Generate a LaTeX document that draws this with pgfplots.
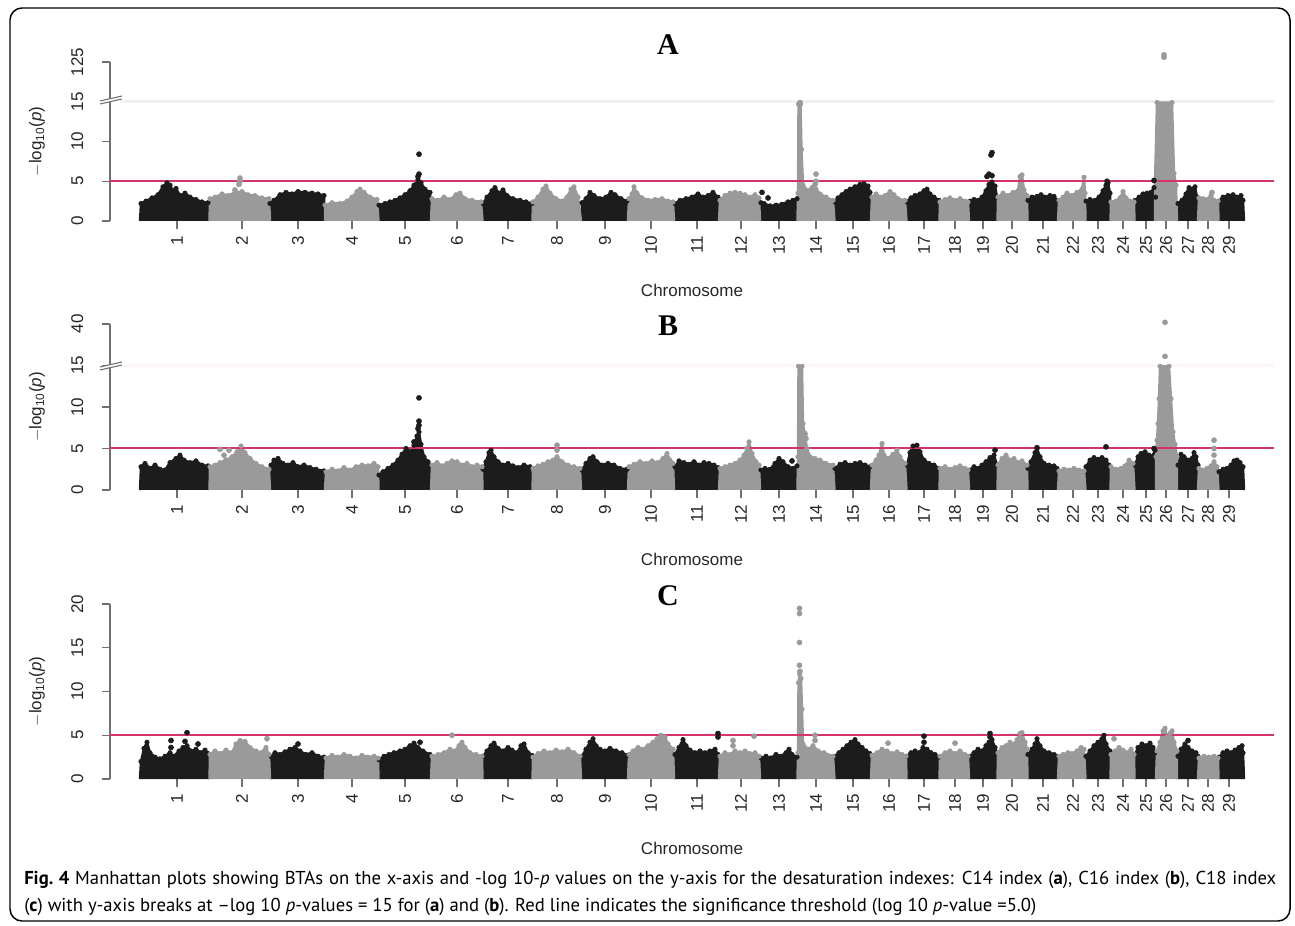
\documentclass[border=0pt]{standalone}
\usepackage{fontspec}
\setmainfont{Liberation Sans}
\newfontfamily\capfont{PT Sans}
\newfontfamily\titlefont{Liberation Serif}
\usepackage{pgfplots}
\pgfplotsset{compat=1.18}
\usepackage{pgfplotstable}

\definecolor{chrdark}{HTML}{1C1C1C}
\definecolor{chrlight}{HTML}{9A9A9A}
\definecolor{sigline}{HTML}{D6336C}
\definecolor{axisgray}{HTML}{707070}

% Upper outline of the SNP clouds, one closed block per chromosome
% (x = cumulative genome position, y = -log10(p); values above 15 are
% drawn on a compressed scale in panels A and B)
\pgfplotstableread{
x y
140 0
141 2.2
146 2.5
152 2.9
158 3.3
163 4.3
167 4.8
170 4.5
173 3.8
176 4.1
180 3.2
185 3.5
190 3.0
196 2.7
202 2.4
208 2.3
209.5 0
nan nan
270 0
270 2.2
274 2.6
280 3.3
286 3.6
292 3.4
298 3.7
305 3.6
312 3.5
318 3.4
324 3.2
325 0
nan nan
378.5 0
379 2.0
385 2.2
390 2.4
395 2.6
400 2.9
405 3.3
410 3.8
414 4.5
418 5.2
421 4.8
425 4.0
430 3.6
431 0
nan nan
482.5 0
483 2.2
487 3.0
492 3.8
495 4.2
499 3.5
503 3.9
507 3.2
513 2.8
520 2.6
526 2.4
532 2.2
532.5 0
nan nan
581 0
582 2.3
586 2.8
590 3.6
594 3.2
600 2.8
606 3.0
611 3.6
615 3.3
621 2.8
627 2.5
628 0
nan nan
674 0
675 2.2
680 2.6
686 2.8
692 3.0
698 3.4
703 3.0
708 3.2
713 3.6
718 3.0
719 0
nan nan
760 0
761 2.3
764 2.2
770 1.9
776 2.0
782 2.1
788 2.4
793 2.6
797 2.8
797.5 0
nan nan
834.5 0
835 2.4
838 2.9
842 3.3
846 3.7
850 4.0
855 4.3
860 4.6
864 4.7
868 4.4
870 3.6
871 0
nan nan
906.5 0
907 2.4
911 2.9
915 3.2
920 3.4
924 3.8
927 4.0
930 3.4
934 3.0
939 2.6
939.5 0
nan nan
969 0
970 2.5
974 2.7
978 2.6
982 3.0
986 3.8
989 4.6
992 4.9
995 4.4
997 3.0
997.5 0
nan nan
1027.5 0
1028 2.6
1032 3.0
1037 3.1
1041 3.3
1045 3.0
1050 3.2
1054 3.1
1057 2.6
1058 0
nan nan
1085.5 0
1086 2.5
1090 2.7
1095 2.6
1099 3.0
1103 3.8
1106 4.5
1108 4.8
1110 3.5
1110.5 0
nan nan
1134.5 0
1135 2.6
1139 3.0
1143 3.4
1147 3.5
1151 3.6
1154 4.2
1155.5 3.0
1156 0
nan nan
1177 0
1178 2.2
1182 2.6
1186 3.4
1189 4.2
1192 4.0
1195 4.3
1197 3.0
1198 0
nan nan
1218.5 0
1219 2.5
1223 3.0
1228 3.2
1233 3.3
1237 3.0
1241 3.2
1243 2.6
1244 0
}\Adark

\pgfplotstableread{
x y
209.5 0
210 2.8
215 3.0
222 3.4
228 3.2
235 3.6
242 3.7
248 3.3
255 3.2
262 2.9
269 2.8
270 0
nan nan
325 0
325 2.0
332 2.3
340 2.2
347 2.5
352 3.0
357 3.7
360 4.0
364 3.6
370 3.0
377 2.7
378.5 0
nan nan
431 0
432 2.8
438 2.6
444 3.0
450 2.7
456 3.3
460 3.5
465 2.8
472 2.6
481 2.4
482.5 0
nan nan
532.5 0
533 2.4
538 3.0
543 4.0
546 4.4
550 3.5
556 2.8
562 2.5
567 3.0
571 4.0
574 4.3
578 3.0
581 0
nan nan
628 0
629 2.8
632 3.4
634 4.3
637 3.5
642 2.9
648 2.6
655 2.7
662 2.8
668 2.5
673 2.4
674 0
nan nan
719 0
720 2.6
725 3.2
730 3.5
735 3.6
740 3.5
745 3.3
750 3.0
755 3.3
759 2.9
760 0
nan nan
797.5 0
798 3.5
798.5 14.7
800.5 14.7
801.5 9.0
803 4.5
808 3.8
812 4.2
816 4.0
820 3.4
826 3.0
833 2.6
834.5 0
nan nan
871 0
872 3.0
876 3.4
880 3.0
885 3.2
890 3.7
894 3.3
898 2.8
905 2.6
906.5 0
nan nan
939.5 0
940 2.4
945 2.7
950 2.9
955 2.6
960 2.8
965 2.5
968 2.4
969 0
nan nan
997.5 0
998 3.0
1003 3.5
1008 3.2
1013 3.6
1018 3.8
1020 5.6
1022 5.8
1024 3.9
1027 3.2
1027.5 0
nan nan
1058 0
1059 2.6
1063 3.0
1067 3.5
1072 3.2
1077 3.6
1082 4.0
1084 5.5
1085 3.5
1085.5 0
nan nan
1110.5 0
1111 2.4
1116 2.5
1120 2.9
1123 3.7
1126 2.9
1130 2.5
1134 2.4
1134.5 0
nan nan
1155 0
1155 5.0
1157 14.9
1172 14.9
1174 6.0
1176 4.5
1177 0
nan nan
1198 0
1199 2.9
1203 2.8
1207 2.7
1211 3.2
1214 2.6
1218 2.5
1218.5 0
}\Alight

\pgfplotstableread{
x y
140 0
141 2.8
145 3.2
150 2.6
155 3.0
160 2.5
165 2.4
170 3.3
176 3.8
180 4.2
184 3.6
190 3.3
196 3.5
202 3.0
208 2.9
209.5 0
nan nan
270 0
271 3.0
274 3.6
278 3.8
283 3.2
288 3.0
293 3.3
298 2.8
304 3.0
310 2.7
316 2.5
324 2.3
325 0
nan nan
378.5 0
379 1.8
383 2.2
388 2.6
393 3.0
398 3.6
402 4.3
406 5.0
410 4.6
414 5.4
417 6.5
419 7.0
421 5.5
424 4.0
428 3.4
430 3.0
431 0
nan nan
482.5 0
483 2.5
486 3.4
489 4.5
491 4.8
494 4.0
498 3.4
503 3.0
508 3.2
513 2.9
518 2.7
524 3.0
530 2.8
532.5 0
nan nan
581 0
582 2.4
586 3.2
590 3.8
593 4.0
597 3.4
602 3.0
608 3.2
614 3.0
620 2.6
627 2.5
628 0
nan nan
674 0
675 2.8
679 3.5
684 3.3
689 3.1
694 3.4
699 3.0
704 3.3
709 3.2
714 3.0
718 2.7
719 0
nan nan
760 0
761 2.4
765 2.6
770 2.5
775 3.2
779 3.8
783 3.4
788 2.8
793 2.6
797 2.9
797.5 0
nan nan
834.5 0
835 2.6
840 3.1
845 3.3
850 3.0
855 3.2
860 3.3
865 3.0
870 2.8
871 0
nan nan
906.5 0
907 3.0
910 4.5
913 5.3
917 5.4
920 4.6
924 3.6
929 3.2
934 3.0
939 2.6
939.5 0
nan nan
969 0
970 2.4
974 2.8
978 2.6
982 3.0
986 3.4
990 3.9
994 4.2
997 3.0
997.5 0
nan nan
1027.5 0
1028 2.6
1031 3.4
1035 4.5
1037 5.0
1040 4.0
1044 3.2
1049 3.0
1054 2.9
1057 2.6
1058 0
nan nan
1085.5 0
1086 2.8
1090 3.6
1094 3.9
1098 3.7
1102 3.9
1106 3.6
1109 3.0
1110.5 0
nan nan
1134.5 0
1135 3.0
1138 4.0
1141 4.4
1145 4.6
1149 4.2
1152 4.0
1155 4.8
1156 0
nan nan
1177 0
1178 3.0
1181 4.3
1184 4.0
1188 3.6
1192 3.8
1194 4.5
1196 4.0
1198 3.0
1198 0
nan nan
1218.5 0
1219 2.2
1223 2.5
1227 2.6
1231 3.0
1234 3.5
1237 3.6
1240 3.3
1243 2.8
1244 0
}\Bdark

\pgfplotstableread{
x y
209.5 0
210 2.8
215 3.0
220 3.3
226 3.6
232 4.0
237 4.6
241 5.3
245 4.5
250 3.8
256 3.2
262 2.8
269 2.5
270 0
nan nan
325 0
326 2.2
332 2.5
338 2.3
344 2.7
350 2.4
356 2.8
362 3.0
368 2.9
374 3.2
378 2.8
378.5 0
nan nan
431 0
432 3.0
437 3.3
442 2.9
447 3.2
452 3.5
457 3.4
462 3.0
467 3.2
472 2.8
477 3.0
482 2.8
482.5 0
nan nan
532.5 0
533 2.6
538 2.9
543 3.1
548 3.4
553 3.6
557 4.0
562 3.4
568 3.0
574 2.8
580 2.6
581 0
nan nan
628 0
629 2.8
634 3.1
640 3.4
646 3.2
652 3.5
658 3.3
663 3.8
667 4.4
670 3.6
673 3.2
674 0
nan nan
719 0
720 2.6
725 2.8
730 3.0
735 3.2
740 3.6
744 4.2
747 5.0
749 5.8
752 4.4
756 3.4
759 3.0
760 0
nan nan
797.5 0
798 4.0
798.5 14.9
802 14.9
803 8.0
805 6.5
807 5.0
810 4.0
815 3.8
820 3.6
826 3.2
833 3.0
834.5 0
nan nan
871 0
872 3.0
876 3.6
879 4.2
882 5.6
884 4.2
888 3.8
893 4.3
897 4.8
900 4.0
905 3.2
906.5 0
nan nan
939.5 0
940 2.6
945 2.8
950 2.5
955 2.7
960 2.9
965 2.6
968 2.4
969 0
nan nan
997.5 0
998 3.0
1002 3.8
1006 4.2
1010 3.6
1014 3.8
1018 3.3
1022 3.5
1027 3.0
1027.5 0
nan nan
1058 0
1059 2.3
1064 2.5
1069 2.4
1074 2.6
1079 2.4
1084 2.3
1085.5 0
nan nan
1110.5 0
1111 2.8
1116 2.5
1121 2.6
1125 2.9
1129 3.6
1133 3.2
1134.5 0
nan nan
1156 0
1156 4.0
1157 6.0
1158 8.0
1159 11.0
1160 14.9
1169 14.9
1171 11.0
1173 7.0
1175 5.5
1177 4.0
1177 0
nan nan
1198 0
1199 2.6
1203 2.4
1207 2.6
1211 2.9
1214 3.4
1217 2.8
1218.5 0
}\Blight

\pgfplotstableread{
x y
140 0
141 2.0
144 3.5
147 4.2
150 3.0
155 2.5
160 2.3
165 2.6
170 3.0
174 2.6
179 3.2
183 3.6
187 3.8
191 3.2
196 3.4
201 3.0
205 3.3
208 2.9
209.5 0
nan nan
270 0
271 2.6
275 3.0
280 2.8
285 3.1
290 3.4
295 3.6
300 3.2
306 2.8
312 3.0
318 2.6
324 2.5
325 0
nan nan
378.5 0
379 2.2
384 2.6
389 2.8
394 3.0
400 3.2
405 3.4
410 3.8
414 4.1
418 3.6
423 3.2
430 2.8
431 0
nan nan
482.5 0
483 2.6
487 3.2
491 3.8
494 4.1
498 3.5
503 3.2
508 3.6
512 3.3
517 3.0
521 3.8
524 4.0
528 3.0
532 2.7
532.5 0
nan nan
581 0
582 2.6
586 3.4
590 4.2
593 4.6
596 3.8
600 3.4
605 3.2
610 3.5
616 3.2
622 3.0
627 2.7
628 0
nan nan
674 0
675 2.8
679 3.6
683 4.5
686 3.8
690 3.3
695 3.0
700 3.2
705 3.0
710 3.2
715 3.4
718 2.8
719 0
nan nan
760 0
761 2.4
766 2.6
771 2.4
776 2.8
781 2.6
786 3.0
789 3.4
792 2.8
797 2.5
797.5 0
nan nan
834.5 0
835 2.6
839 3.0
843 3.4
847 3.8
851 4.2
855 4.5
858 4.0
862 3.6
866 3.2
870 2.9
871 0
nan nan
906.5 0
907 2.6
911 3.0
915 3.2
919 3.0
923 3.6
927 3.4
931 3.0
935 2.8
939 2.5
939.5 0
nan nan
969 0
970 2.6
974 3.0
978 3.4
982 3.2
986 3.8
989 4.2
992 4.5
995 3.6
997 3.0
997.5 0
nan nan
1027.5 0
1028 2.8
1032 3.4
1035 4.0
1037 4.6
1040 3.8
1044 3.2
1049 3.0
1054 2.8
1057 2.6
1058 0
nan nan
1085.5 0
1086 2.6
1090 3.2
1094 3.8
1098 4.2
1102 4.6
1104 5.0
1106 4.0
1110 3.2
1110.5 0
nan nan
1134.5 0
1135 2.8
1138 3.6
1142 4.0
1146 3.8
1150 4.1
1153 3.6
1155 3.0
1156 0
nan nan
1177 0
1178 2.6
1181 3.4
1185 4.0
1188 3.6
1192 3.2
1196 3.0
1198 2.6
1198 0
nan nan
1218.5 0
1219 2.5
1223 3.0
1227 3.2
1231 3.0
1235 3.3
1239 3.6
1242 3.8
1243 3.0
1244 0
}\Cdark

\pgfplotstableread{
x y
209.5 0
210 2.8
215 3.2
220 2.9
226 3.3
232 3.0
236 4.0
240 4.4
245 4.3
250 3.6
256 3.2
261 3.0
266 3.6
269 2.8
270 0
nan nan
325 0
326 2.4
332 2.7
338 2.5
344 2.8
350 2.6
356 2.4
362 2.7
368 2.5
374 2.6
378 2.4
378.5 0
nan nan
431 0
432 2.6
438 2.8
444 3.0
450 3.4
455 3.2
459 3.8
462 4.2
465 3.6
470 3.0
476 2.8
482 2.6
482.5 0
nan nan
532.5 0
533 2.5
538 2.9
544 3.2
550 3.0
556 3.3
562 3.1
568 3.4
574 3.0
580 2.6
581 0
nan nan
628 0
629 2.8
633 3.2
638 3.6
643 3.4
648 3.8
653 4.2
657 4.6
661 5.0
665 4.8
668 4.0
673 3.4
674 0
nan nan
719 0
720 2.6
725 3.0
730 2.8
735 3.2
740 3.0
745 3.2
750 2.9
755 3.0
759 2.6
760 0
nan nan
797.5 0
798 3.0
798.5 11.0
799.5 12.0
801 11.5
802 8.0
803 4.0
808 3.4
813 3.8
818 3.2
824 3.0
833 2.6
834.5 0
nan nan
871 0
872 2.7
877 3.0
882 3.4
887 3.2
892 2.9
897 3.1
902 2.8
906 2.6
906.5 0
nan nan
939.5 0
940 2.6
945 3.0
950 3.2
955 2.9
960 3.2
965 2.8
968 2.6
969 0
nan nan
997.5 0
998 3.0
1002 3.6
1006 3.8
1010 4.2
1014 4.0
1017 4.5
1020 5.2
1022 5.3
1025 4.2
1027 3.4
1027.5 0
nan nan
1058 0
1059 2.6
1063 2.8
1068 3.0
1072 2.9
1077 3.2
1081 3.6
1084 3.4
1085.5 0
nan nan
1110.5 0
1111 2.8
1115 3.2
1119 3.6
1123 3.3
1127 3.0
1131 3.4
1134 2.8
1134.5 0
nan nan
1156 0
1157 3.2
1160 4.2
1163 5.5
1165 5.8
1167 4.8
1170 5.2
1172 5.5
1174 4.2
1177 3.2
1177 0
nan nan
1198 0
1199 2.4
1204 2.6
1209 2.5
1214 2.6
1218 2.4
1218.5 0
}\Clight

\pgfplotsset{
  manhattan/.style={
    scale only axis, width=873pt,
    xmin=110, xmax=1274, ymin=0, ymax=20,
    clip=false,
    axis x line*=bottom, axis y line*=left,
    x axis line style={draw=none},
    y axis line style={draw=axisgray, line width=0.8pt, -},
    every tick/.style={draw=axisgray, line width=0.8pt},
    tick align=outside, major tick length=6pt,
    xtick={177,242,298,352,405,457,508,557,605,651,697,741,779,816,853,889,924,955,983,1012,1043,1073,1098,1123,1146,1166,1188,1208,1229},
    xticklabels={1,2,3,4,5,6,7,8,9,10,11,12,13,14,15,16,17,18,19,20,21,22,23,24,25,26,27,28,29},
    ytick={0,5,10,15,20},
    tick label style={font=\fontsize{12.75pt}{14pt}\selectfont, text=black!85},
    xticklabel style={yshift=-1.5pt, rotate=90, anchor=east},
    yticklabel style={xshift=-10.5pt, rotate=90, anchor=south},
    xlabel={Chromosome},
    ylabel={$-$log\textsubscript{10}(\textit{p})},
    every axis x label/.style={at={([yshift=-51.75pt]axis description cs:0.5,0)}, anchor=center,
      font=\fontsize{12.75pt}{14pt}\selectfont, text=black!85},
    every axis y label/.style={at={([xshift=-54.75pt]axis description cs:0,0.5)}, anchor=center,
      rotate=90, font=\fontsize{12.75pt}{14pt}\selectfont, text=black!85},
    unbounded coords=jump,
  },
  dark block/.style={fill=chrdark, draw=chrdark, line width=1.8pt, line join=round, mark=none},
  light block/.style={fill=chrlight, draw=chrlight, line width=1.8pt, line join=round, mark=none},
  dark dots/.style={only marks, mark=*, mark size=1.9pt, color=chrdark},
  light dots/.style={only marks, mark=*, mark size=1.9pt, color=chrlight},
  % dots on the outline vertices give the blocks their knobbly SNP edge
  dark edge/.style={dark dots, mark size=1.7pt, restrict y to domain=0.5:30},
  light edge/.style={light dots, mark size=1.7pt, restrict y to domain=0.5:30},
  threshold/.style={sigline, line width=1.5pt, mark=none},
}

\begin{document}
\begin{tikzpicture}[x=0.75pt,y=0.75pt]
\path[use as bounding box] (0,0) rectangle (1295,925);
\draw[line width=1.1pt, rounded corners=9pt] (10,4) rectangle (1290,917);

% ---------- A: C14 index ----------
\begin{axis}[manhattan, at={(82.5pt,528pt)}, anchor=south west, height=119.25pt,
  yticklabels={0,5,10,15,125}]
  \draw[black!6, line width=2.25pt] (axis cs:123,15) -- (axis cs:1274,15);
  \addplot[dark block] table {\Adark};
  \addplot[dark edge] table {\Adark};
  \addplot[light block] table {\Alight};
  \addplot[light edge] table {\Alight};
  \addplot[dark dots] coordinates {(418,5.6) (419,5.9) (419,8.4) (987,5.6) (989,5.9)
    (992,5.7) (991,8.3) (992,8.6) (1154,5.1) (762,3.6) (768,2.9) (1107,5.0)};
  \addplot[light dots] coordinates {(235,3.9) (239,4.6) (240,5.0) (240,5.4) (800,14.9)
    (816,5.0) (816,5.9) (815,4.6) (1164,20.9) (1164,20.6) (1212,3.6)};
  \addplot[threshold] coordinates {(110,5) (1274,5)};
\end{axis}

% ---------- B: C16 index ----------
\begin{axis}[manhattan, at={(82.5pt,326.25pt)}, anchor=south west, height=124.5pt,
  yticklabels={0,5,10,15,40}]
  \draw[sigline!5, line width=2.25pt] (axis cs:123,15) -- (axis cs:1274,15);
  \addplot[dark block] table {\Bdark};
  \addplot[dark edge] table {\Bdark};
  \addplot[light block] table {\Blight};
  \addplot[light edge] table {\Blight};
  \addplot[dark dots] coordinates {(414,5.8) (418,7.4) (419,7.8) (419,8.3) (419,11.1)
    (1037,5.1) (1106,5.2) (1154,5.0) (995,4.8) (792,3.5)};
  \addplot[light dots] coordinates {(220,4.9) (224,4.2) (226,3.6) (229,4.8) (557,4.8)
    (557,5.4) (805,6.8) (806,6.2) (1165,16.1) (1165,20.2) (1214,6.0) (1214,5.0) (1214,4.2)};
  \addplot[threshold] coordinates {(110,5) (1274,5)};
\end{axis}

% ---------- C: C18 index ----------
\begin{axis}[manhattan, at={(82.5pt,109.5pt)}, anchor=south west, height=131.25pt,
  yticklabels={0,5,10,15,20}]
  \addplot[dark block] table {\Cdark};
  \addplot[dark edge] table {\Cdark};
  \addplot[light block] table {\Clight};
  \addplot[light edge] table {\Clight};
  \addplot[dark dots] coordinates {(171,4.4) (171,3.6) (185,4.3) (187,5.3) (198,4.0)
    (298,4.0) (420,4.2) (718,5.2) (718,4.8) (924,4.9) (924,4.2) (990,5.2) (990,4.8) (1188,4.4)};
  \addplot[light dots] coordinates {(267,4.6) (452,5.0) (733,4.4) (733,3.8) (754,4.9)
    (799.5,19.5) (799.5,18.9) (799.5,15.6) (799.5,13.0) (800,12.3) (815,5.0) (815,4.4)
    (888,4.1) (955,4.1) (1114,4.6)};
  \addplot[threshold] coordinates {(110,5) (1274,5)};
\end{axis}

% axis breaks at 15 on panels A and B
\foreach \yb in {824,558} {
  \fill[white] (100,\yb-3) -- (122,\yb+2) -- (122,\yb+5) -- (100,\yb) -- cycle;
  \draw[axisgray, line width=0.8pt] (100,\yb-3) -- (122,\yb+2);
  \draw[axisgray, line width=0.8pt] (100,\yb) -- (122,\yb+5);
}

% panel letters
\begin{scope}[every node/.style={font=\titlefont\bfseries\fontsize{22.5pt}{24pt}\selectfont}]
  \node at (668,880) {A};
  \node at (668,599) {B};
  \node at (668,329.5) {C};
\end{scope}

% caption
\begin{scope}[every node/.style={inner sep=0pt, anchor=base west,
    font=\capfont\fontsize{14pt}{16pt}\selectfont}]
  \node at (24,41) {\makebox[939pt][s]{\textbf{Fig.\ 4} Manhattan plots showing BTAs on the x-axis and -log 10-\textit{p} values on the y-axis for the desaturation indexes: C14 index (\textbf{a}), C16 index (\textbf{b}), C18 index}};
  \node at (24,14) {(\textbf{c}) with y-axis breaks at –log 10 \textit{p}-values = 15 for (\textbf{a}) and (\textbf{b}). Red line indicates the significance threshold (log 10 \textit{p}-value =5.0)};
\end{scope}
\end{tikzpicture}
\end{document}
